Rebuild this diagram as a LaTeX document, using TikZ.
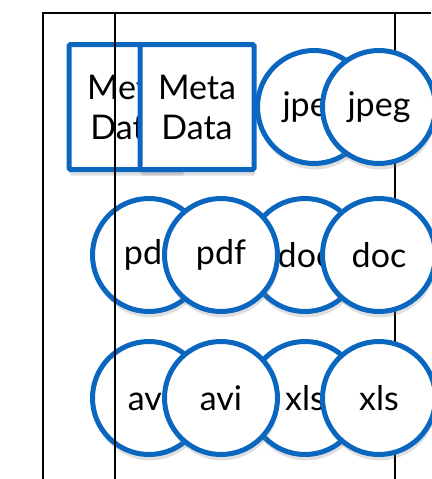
\documentclass[tikz,border=0pt]{standalone}
\usepackage{fontspec}
\setmainfont{Lato}
\usetikzlibrary{shadows}
\definecolor{fileblue}{RGB}{10,102,190}
\tikzset{
  blue box/.style={
    fill=white,
    draw=fileblue,
    line width=5pt,
    rounded corners=1.5pt,
    minimum width=114pt,
    minimum height=125pt,
    align=center,
    font=\fontsize{34}{40}\selectfont,
    drop shadow={opacity=0.25, shadow xshift=1pt, shadow yshift=-6pt},
  },
  blue disc/.style={
    circle,
    fill=white,
    draw=fileblue,
    line width=5pt,
    minimum size=113pt,
    inner sep=0pt,
    font=\fontsize{34}{40}\selectfont,
    drop shadow={opacity=0.25, shadow xshift=1pt, shadow yshift=-6pt},
  },
  frame line/.style={
    line width=1.8pt,
  }
}
\begin{document}
\begin{tikzpicture}[x=1pt,y=-1pt]
        \useasboundingbox (0,0) rectangle (431,479);
        % back layer
        \node [blue box] (meta) at (126,107) {Meta\\Data};
        \node [blue disc] (jpeg) at (314,107) {jpeg};
        \node [blue disc] (pdf) at (149,255) {pdf};
        \node [blue disc] (doc) at (305,255) {doc};
        \node [blue disc] (avi) at (149,398) {avi};
        \node [blue disc] (xls) at (305,398) {xls};

        % frame
        \draw [frame line] (43,479) -- (43,13) -- (431,13);
        \draw [frame line] (115,13) -- (115,479);
        \draw [frame line] (395,13) -- (395,479);

        % front layer
        \node [blue box] (metai) at (197,107) {Meta\\Data};
        \node [blue disc] (jpegi) at (379,107) {jpeg};
        \node [blue disc] (pdfi) at (221,255) {pdf};
        \node [blue disc] (doci) at (379,255) {doc};
        \node [blue disc] (avii) at (221,398) {avi};
        \node [blue disc] (xlsi) at (379,398) {xls};
    \end{tikzpicture}
\end{document}
